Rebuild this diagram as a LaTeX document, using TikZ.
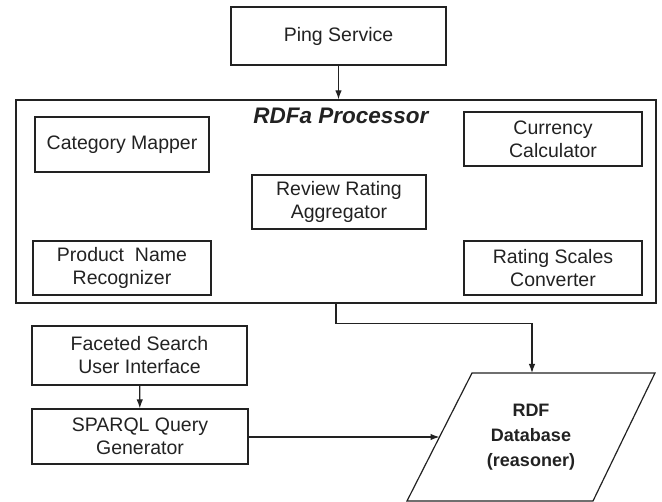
\documentclass[tikz,border=0pt]{standalone}
\usepackage{fontspec}
\setmainfont{Liberation Sans}
\usetikzlibrary{arrows.meta}
\definecolor{ink}{HTML}{222222}
\tikzset{
  box/.style={draw=ink, line width=1.2pt, align=center, inner sep=0pt,
    text=ink, font=\fontsize{19.5}{23}\selectfont},
  link/.style={draw=ink, line width=1.2pt, -{Latex[length=9pt,width=6.5pt]}},
}
\begin{document}
\begin{tikzpicture}[x=1pt,y=-1pt]
\useasboundingbox (0,0) rectangle (662,502);

% top service
\node[box, minimum width=215pt, minimum height=58pt] (ping) at (338.5,36) {Ping Service};

% processor frame and its modules
\node[box, minimum width=640pt, minimum height=203pt] (proc) at (336,201.5) {};
\node[text=ink, font=\fontsize{22.5}{24}\selectfont\bfseries\itshape] (title) at (341,116) {RDFa Processor};
\node[box, minimum width=174pt, minimum height=55pt] (cat) at (122,144.5) {Category Mapper};
\node[box, minimum width=178pt, minimum height=54pt] (cur) at (553,139) {Currency\\Calculator};
\node[box, minimum width=174pt, minimum height=54pt] (rev) at (339,202) {Review Rating\\Aggregator};
\node[box, minimum width=178pt, minimum height=54pt] (prod) at (122,268) {Product\ \ Name\\Recognizer};
\node[box, minimum width=178pt, minimum height=54pt] (rsc) at (553,268) {Rating Scales\\Converter};

% query side
\node[box, minimum width=215pt, minimum height=59pt] (fac) at (139.5,355.5) {Faceted Search\\User Interface};
\node[box, minimum width=216pt, minimum height=55pt] (spq) at (140,436.5) {SPARQL Query\\Generator};

% database (parallelogram)
\coordinate (dbtl) at (472,373);
\coordinate (dbtr) at (655,373);
\coordinate (dbbr) at (593,501);
\coordinate (dbbl) at (407,501);
\draw[ink, line width=1.2pt, line join=miter] (dbtl) -- (dbtr) -- (dbbr) -- (dbbl) -- cycle;
\node[align=center, text=ink, font=\fontsize{18}{25}\selectfont\bfseries] (db) at (531,437) {RDF\\Database\\(reasoner)};
\coordinate (dbtop) at (532,373);
\coordinate (dbin) at (439.5,437);

% connectors
\draw[link] (ping) -- (ping.south |- proc.north);
\draw[link] (fac) -- (spq);
\draw[link] (proc.south) -- ++(0,20) -| (dbtop);
\draw[link] (spq.east |- dbin) -- (dbin);
\end{tikzpicture}
\end{document}
